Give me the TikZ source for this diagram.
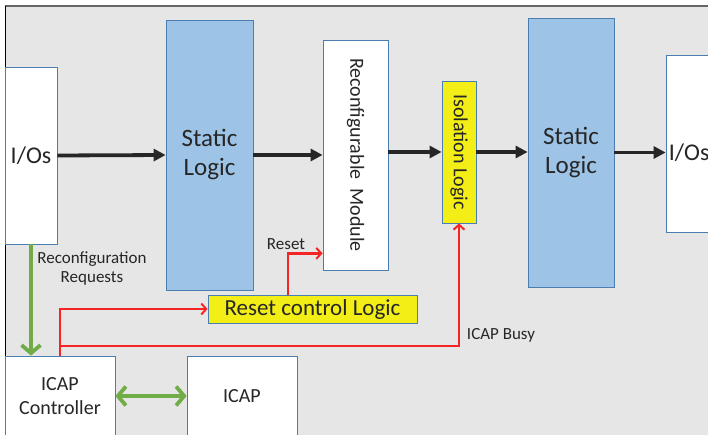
\documentclass[tikz,border=0pt]{standalone}
\usepackage{fontspec}
\setmainfont{Carlito}
\usetikzlibrary{arrows.meta}
\definecolor{bggray}{HTML}{E6E6E6}
\definecolor{slblue}{HTML}{9DC3E6}
\definecolor{boxedge}{HTML}{4A7DB0}
\definecolor{isoyellow}{HTML}{F2EE16}
\definecolor{sigred}{HTML}{F52525}
\definecolor{reqgreen}{HTML}{70AD47}
\definecolor{txtgray}{HTML}{262626}

\begin{document}
\begin{tikzpicture}[x=1pt,y=-1pt,
	box/.style={draw=boxedge, line width=0.8pt, fill=white, inner sep=0pt, text=txtgray, align=center},
	staticbox/.style={box, fill=slblue, font=\fontsize{25}{29}\selectfont},
	yellowbox/.style={box, fill=isoyellow},
	dataflow/.style={line width=3.8pt, draw=txtgray, -{Triangle[length=12pt,width=12pt]}},
	request/.style={line width=3.8pt, draw=reqgreen, -{Straight Barb[length=8pt,width=19pt,line width=3.8pt]}},
	ctrl/.style={line width=2.2pt, draw=sigred, -{Straight Barb[length=5pt,width=11pt,line width=2pt]}},
	smalltext/.style={font=\fontsize{17}{19}\selectfont, text=txtgray, align=center}
]
\clip (0,0) rectangle (708,435);

% FPGA area background
\fill[bggray] (5,6) rectangle (710,440);
\draw[line width=2pt, color=black!60] (5,6) -- (710,6);
\draw[line width=0.7pt] (5,6) -- (5,440);

% Data path blocks
\node[box, minimum width=52pt, minimum height=177pt, font=\fontsize{24}{29}\selectfont]
	(ioin) at (31,155.5) {I/Os};
\node[staticbox, minimum width=87pt, minimum height=270pt] (slin) at (209.5,155) {Static\\Logic};
\node[box, minimum width=65pt, minimum height=230pt,
	label={[rotate=-90, font=\fontsize{20}{24}\selectfont, text=txtgray]center:Reconfigurable\ \ Module}]
	(rmod) at (355.5,155) {};
\node[yellowbox, minimum width=34pt, minimum height=142pt,
	label={[rotate=-90, font=\fontsize{20}{24}\selectfont, text=txtgray]center:Isolation Logic}]
	(iso) at (459,152) {};
\node[staticbox, minimum width=86pt, minimum height=269pt] (slout) at (571,152.5) {Static\\Logic};
\node[box, minimum width=80pt, minimum height=177pt,
	label={[anchor=west, inner sep=0pt, xshift=3pt, yshift=-9pt, font=\fontsize{24}{29}\selectfont, text=txtgray]west:I/Os}]
	(ioout) at (706,143.5) {};

% Reconfiguration control blocks
\node[yellowbox, minimum width=209pt, minimum height=28pt, font=\fontsize{23}{26}\selectfont]
	(rcl) at (312.5,309) {Reset control Logic};
\node[box, minimum width=110pt, minimum height=80pt, font=\fontsize{20}{24}\selectfont]
	(icapc) at (60,396) {ICAP\\Controller};
\node[box, minimum width=110pt, minimum height=80pt, font=\fontsize{20}{24}\selectfont]
	(icap) at (242,396) {ICAP};

% Data flow
\draw[dataflow] (ioin.east) -- (slin.west);
\draw[dataflow] (slin.east) -- (rmod.west);
\draw[dataflow] (rmod.east |- iso.west) -- (iso.west);
\draw[dataflow] (iso.east) -- (slout.west |- iso.east);
\draw[dataflow] (slout.east) -- (slout.east -| ioout.west);

% Requests and ICAP access
\draw[request] (ioin.south) -- (ioin.south |- icapc.north);
\node[smalltext] (reqlabel) at (92,268) {Reconfiguration\\Requests};
\draw[request, {Straight Barb[length=8pt,width=19pt,line width=3.8pt]}-{Straight Barb[length=8pt,width=19pt,line width=3.8pt]}]
	(icapc.east) -- (icap.west);

% Reset and busy signals
\coordinate (busytap) at (60,346);
\coordinate (rstout) at (288,295);
\draw[ctrl] (icapc.north) |- (rcl.west);
\draw[ctrl] (busytap) -| (iso.south);
\draw[ctrl] (rstout) |- ([yshift=17pt]rmod.south west);
\node[smalltext] (rstlabel) at (286,244) {Reset};
\node[smalltext] (busylabel) at (501,335) {ICAP Busy};

\end{tikzpicture}
\end{document}
